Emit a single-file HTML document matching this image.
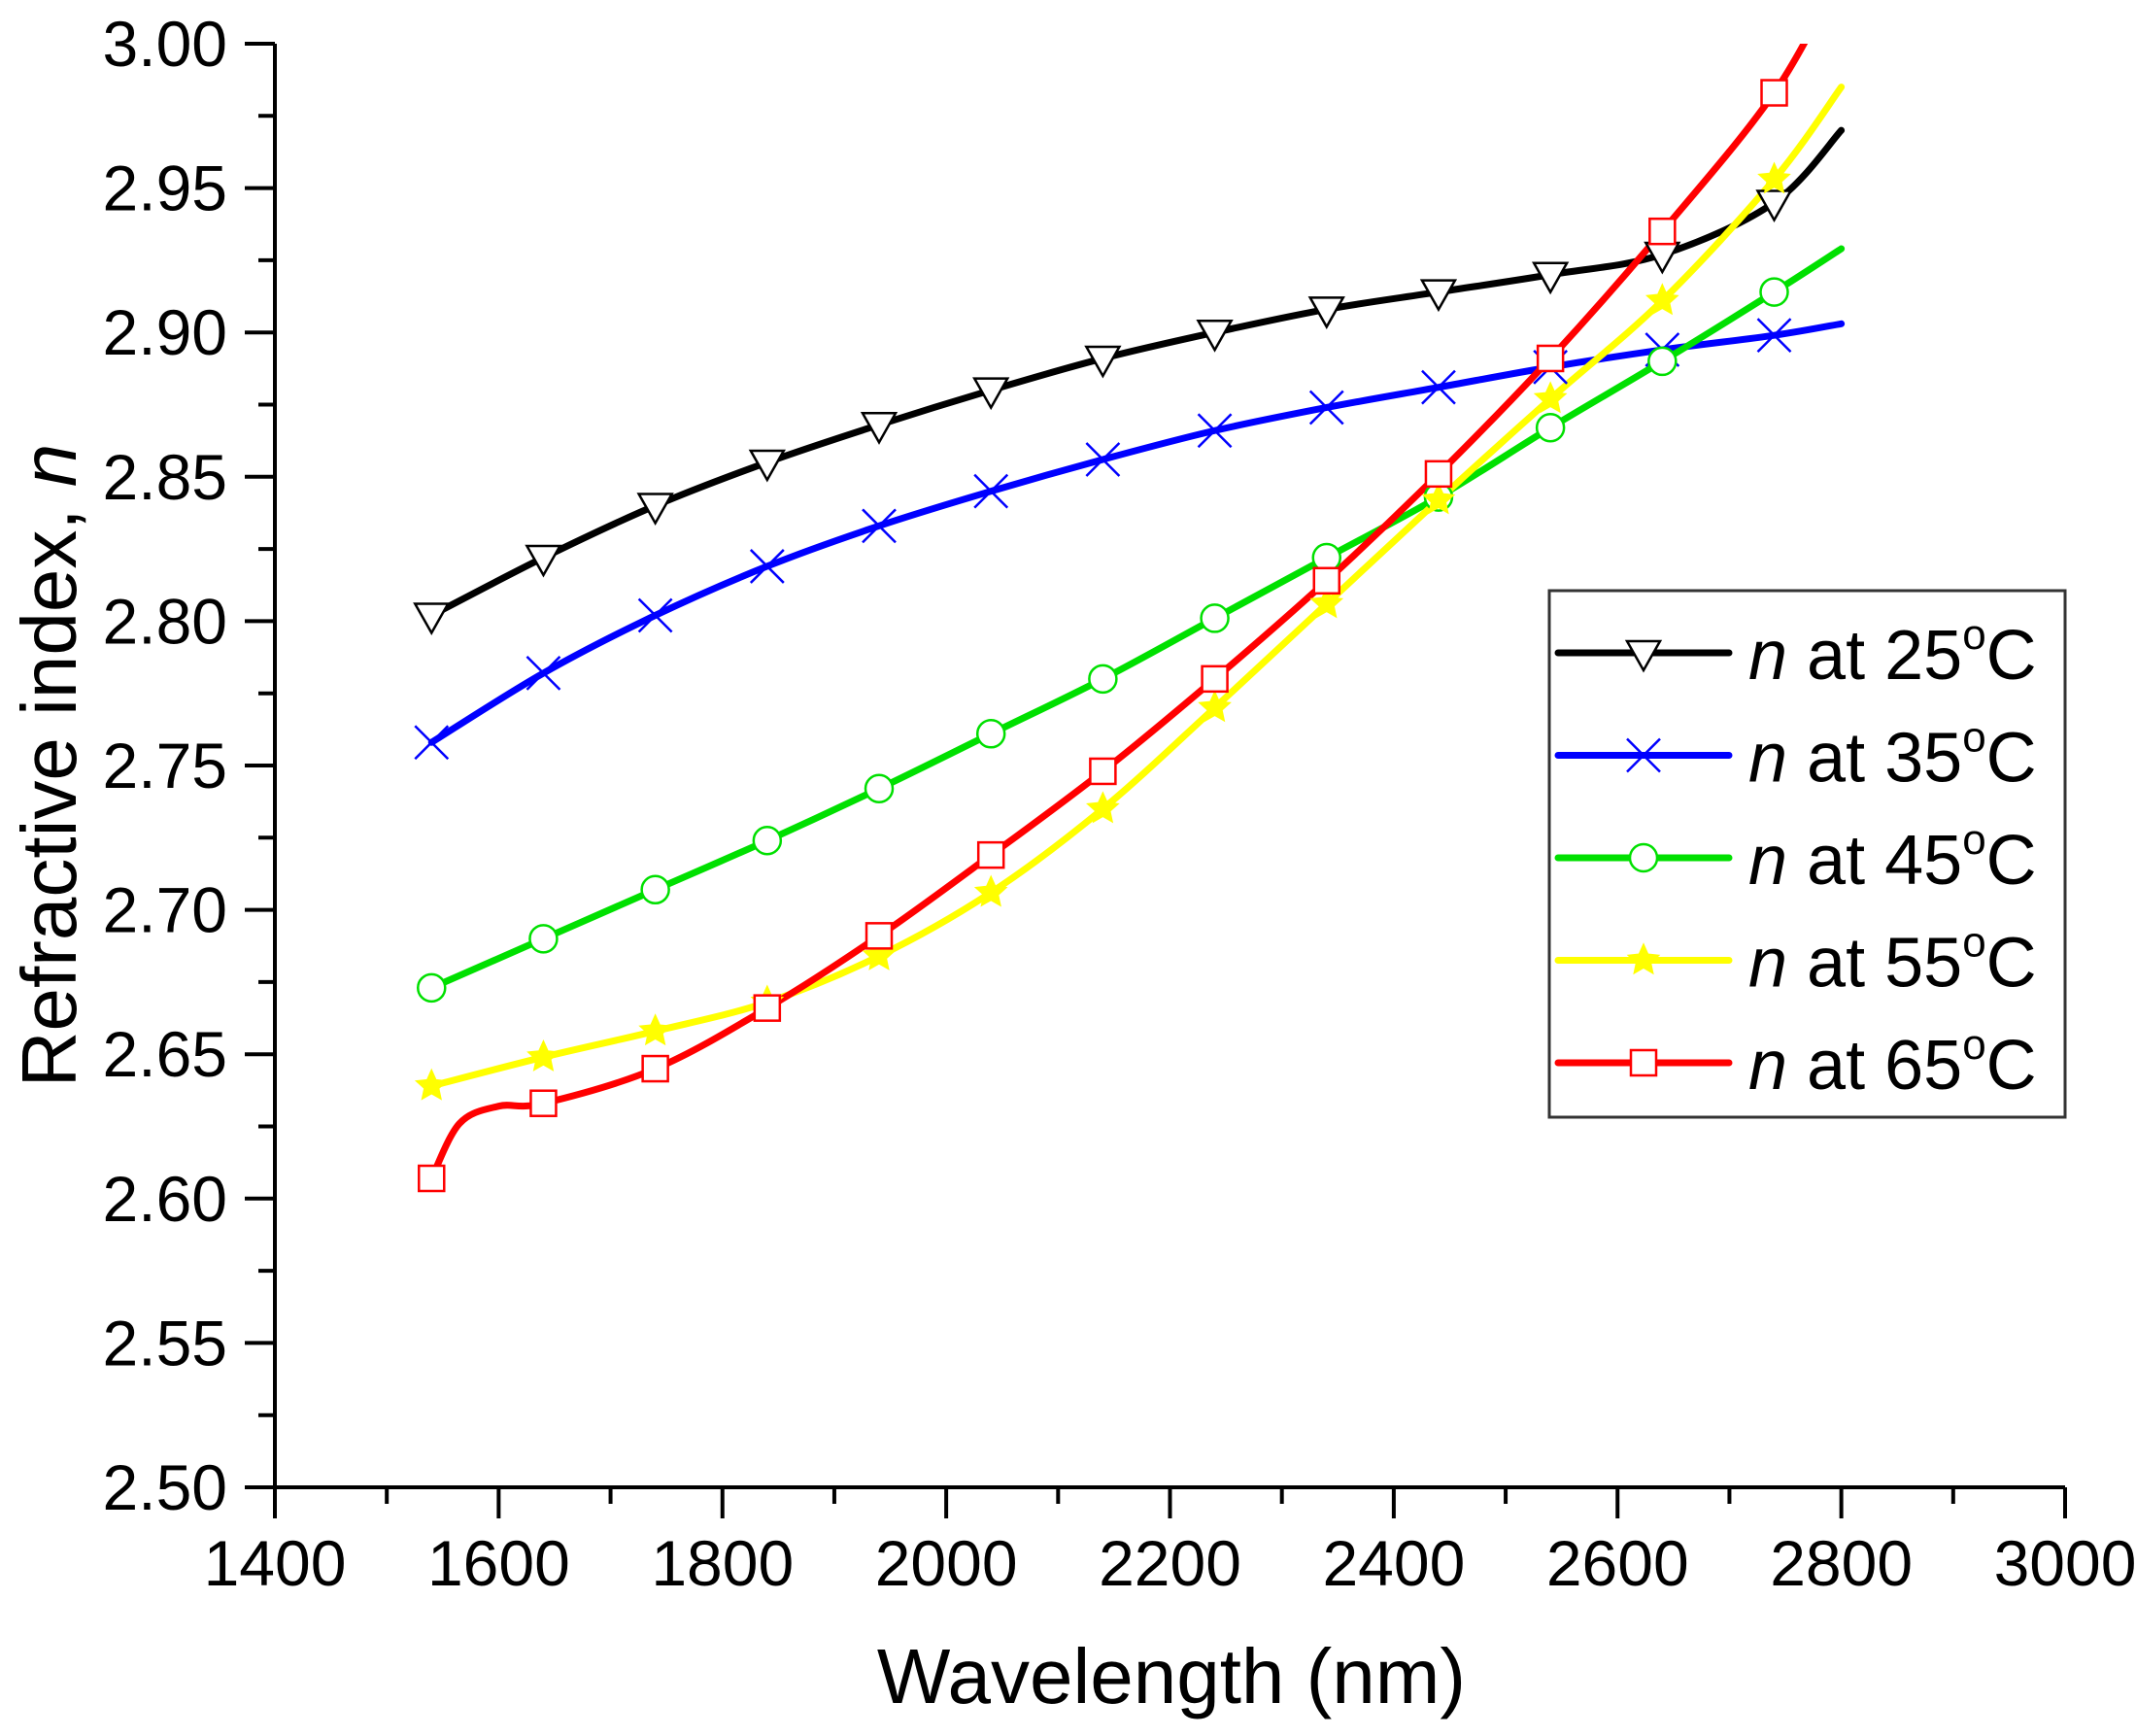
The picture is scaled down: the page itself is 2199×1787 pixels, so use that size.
<!DOCTYPE html>
<html><head><meta charset="utf-8"><style>
html,body{margin:0;padding:0;background:#fff;}
svg{display:block;font-family:"Liberation Sans",Arial,sans-serif;}
</style></head><body>
<svg id="s" width="2199" height="1787" viewBox="0 0 2199 1787" xmlns="http://www.w3.org/2000/svg">
<rect width="2199" height="1787" fill="#fff"/>
<defs><clipPath id="cp"><rect x="283" y="45" width="1843" height="1486"/></clipPath></defs>
<g id="ax"></g>
<g id="data" clip-path="url(#cp)"></g>
<g id="mk"></g>
<text x="1206" y="1753" font-size="80" text-anchor="middle">Wavelength (nm)</text>
<text transform="translate(78,788) rotate(-90)" font-size="80" text-anchor="middle">Refractive index, <tspan font-style="italic">n</tspan></text>
<rect x="1595" y="608" width="531" height="542" fill="#fff" stroke="#333" stroke-width="3"/>
<g id="leg"></g>
</svg>
<script>
const NS="http://www.w3.org/2000/svg";
function X(v){return 283+(v-1400)*1843/1600;}
function Y(v){return 45+(3-v)*2972;}
function el(p,t,a,txt){const e=document.createElementNS(NS,t);for(const k in a)e.setAttribute(k,a[k]);if(txt!==undefined)e.textContent=txt;p.appendChild(e);return e;}
const ax=document.getElementById('ax');
el(ax,'path',{d:`M283,45 L283,1531 L2126,1531`,stroke:'#000','stroke-width':4,fill:'none'});
for(let i=0;i<=20;i++){const v=2.5+i*0.025,y=Y(v),maj=i%2==0;
 el(ax,'line',{x1:maj?252:266,x2:283,y1:y,y2:y,stroke:'#000','stroke-width':4});
 if(maj)el(ax,'text',{x:234,y:y+23,'font-size':66,'text-anchor':'end'},v.toFixed(2));}
for(let v=1400;v<=3000;v+=100){const x=X(v),maj=v%200==0;
 el(ax,'line',{x1:x,x2:x,y1:1531,y2:maj?1563:1548,stroke:'#000','stroke-width':4});
 if(maj)el(ax,'text',{x:x,y:1632,'font-size':66,'text-anchor':'middle'},String(v));}
const xs=[1540,1640,1740,1840,1940,2040,2140,2240,2340,2440,2540,2640,2740,2800];
const S=[
{c:'#000',m:'tri',y:[2.802,2.822,2.840,2.855,2.868,2.880,2.891,2.900,2.908,2.914,2.920,2.927,2.945,2.970],l:'25'},
{c:'#0000ff',m:'x',y:[2.758,2.782,2.802,2.819,2.833,2.845,2.856,2.866,2.874,2.881,2.888,2.894,2.899,2.903],l:'35'},
{c:'#00e000',m:'circ',y:[2.673,2.690,2.707,2.724,2.742,2.761,2.780,2.801,2.822,2.843,2.867,2.890,2.914,2.929],l:'45'},
{c:'#ffff00',m:'star',y:[2.639,2.649,2.658,2.668,2.684,2.706,2.735,2.770,2.806,2.842,2.877,2.911,2.953,2.985],l:'55'},
{c:'#ff0000',m:'sq',y:[2.607,2.633,2.645,2.666,2.691,2.719,2.748,2.780,2.814,2.851,2.891,2.935,2.983,3.025],l:'65'}];
function path(pts){let d=`M${pts[0][0]},${pts[0][1]}`;
 for(let i=0;i<pts.length-1;i++){const p0=pts[i-1]||pts[i],p1=pts[i],p2=pts[i+1],p3=pts[i+2]||p2;
  const c1=[p1[0]+(p2[0]-p0[0])/6,p1[1]+(p2[1]-p0[1])/6],c2=[p2[0]-(p3[0]-p1[0])/6,p2[1]-(p3[1]-p1[1])/6];
  d+=` C${c1[0]},${c1[1]} ${c2[0]},${c2[1]} ${p2[0]},${p2[1]}`;}return d;}
function marker(g,m,x,y,c){const r=17;
 if(m=='tri')el(g,'path',{d:`M${x-r},${y-12} L${x+r},${y-12} L${x},${y+18} Z`,fill:'#fff',stroke:c,'stroke-width':2.5});
 if(m=='x')el(g,'path',{d:`M${x-r},${y-r} L${x+r},${y+r} M${x-r},${y+r} L${x+r},${y-r}`,stroke:c,'stroke-width':2.5});
 if(m=='circ')el(g,'circle',{cx:x,cy:y,r:14,fill:'#fff',stroke:c,'stroke-width':2.5});
 if(m=='sq')el(g,'rect',{x:x-13,y:y-13,width:26,height:26,fill:'#fff',stroke:c,'stroke-width':2.5});
 if(m=='star'){let d='';for(let i=0;i<10;i++){const a=-Math.PI/2+i*Math.PI/5,rr=i%2?8:r;d+=(i?'L':'M')+(x+rr*Math.cos(a))+','+(y+rr*Math.sin(a));}el(g,'path',{d:d+'Z',fill:c,stroke:c,'stroke-width':1});}}
const dg=document.getElementById('data'),mg=document.getElementById('mk'),lg=document.getElementById('leg');
S.forEach((s,k)=>{let pts=xs.map((x,i)=>[X(x),Y(s.y[i])]);
 if(s.m=='sq'){pts=[pts[0],[X(1565),Y(2.626)],[X(1600),Y(2.632)]].concat(pts.slice(1));}
 el(dg,'path',{d:path(pts),fill:'none',stroke:s.c,'stroke-width':7,'stroke-linecap':'round'});});
S.forEach((s,k)=>{for(let i=0;i<13;i++)marker(mg,s.m,X(xs[i]),Y(s.y[i]),s.c);
 const y=672+k*105.5;
 el(lg,'line',{x1:1604,x2:1780,y1:y,y2:y,stroke:s.c,'stroke-width':7,'stroke-linecap':'round'});
 marker(lg,s.m,1692,y,s.c);
 const t=el(lg,'text',{x:1800,y:y+27,'font-size':72});
 el(t,'tspan',{'font-style':'italic'},'n');el(t,'tspan',{},' at '+s.l[0]+s.l[1]);
 el(t,'tspan',{'font-size':44,dy:-31},'o');el(t,'tspan',{dy:31},'C');});
</script>
</body></html>
